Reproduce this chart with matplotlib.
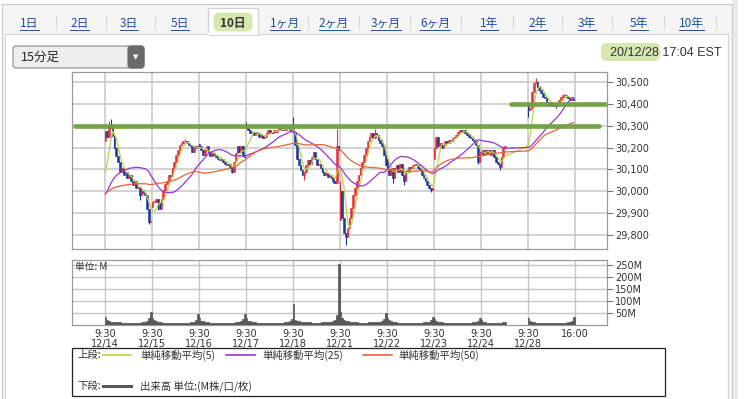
import numpy as np
import pandas as pd
import matplotlib
matplotlib.use('Agg')
import matplotlib.pyplot as plt
from matplotlib.patches import Rectangle, FancyBboxPatch

# ---------------- data (15 min bars) ----------------
days = ['12/14', '12/15', '12/16', '12/17', '12/18', '12/21', '12/22', '12/23', '12/24', '12/28']

# closes of the bars before 12/14 (only used to warm up the moving averages)
prev_close = [30020, 30005, 29985, 29990, 30010, 30030, 30045, 30025, 30005, 29990, 30010, 30020,
              30000, 29990, 29975, 29990, 30005, 30015, 30000, 29990, 29980, 29990, 29999,
              29960, 29910, 29880, 29860, 29850, 29880, 29910, 29935, 29955, 29945, 29965, 29985,
              29995, 29975, 29985, 30005, 30015, 29995, 30005, 30015, 30025, 30030, 30035, 30040,
              30050, 30046]

c1214 = [30275, 30250, 30300, 30290, 30255, 30200, 30160, 30135, 30090, 30105, 30075, 30090, 30060,
         30075, 30045, 30030, 30045, 30015, 30020, 29985, 30005, 29990, 29985, 29920, 29860, 29862]
c1215 = [29950, 29950, 29965, 29950, 29920, 29965, 30005, 30035, 30045, 30075, 30068, 30105, 30135,
         30166, 30190, 30212, 30220, 30228, 30228, 30220, 30212, 30205, 30182, 30205, 30197, 30205]
c1216 = [30205, 30190, 30166, 30190, 30205, 30182, 30160, 30174, 30166, 30158, 30150, 30143, 30150,
         30135, 30127, 30120, 30127, 30105, 30090, 30135, 30174, 30205, 30182, 30205, 30166, 30158]
c1217 = [30288, 30280, 30265, 30273, 30258, 30273, 30265, 30250, 30258, 30243, 30250, 30265, 30280,
         30273, 30265, 30280, 30273, 30280, 30288, 30280, 30288, 30280, 30288, 30290, 30280, 30288]
c1218 = [30273, 30212, 30150, 30120, 30098, 30075, 30090, 30120, 30143, 30127, 30158, 30182, 30150,
         30120, 30127, 30105, 30090, 30075, 30082, 30067, 30075, 30060, 30045, 30040, 30205, 30190]
c1221 = [30000, 29880, 29810, 29790, 29830, 29876, 29922, 29983, 30013, 30045, 30075, 30105, 30135,
         30166, 30197, 30228, 30250, 30265, 30243, 30265, 30258, 30235, 30220, 30205, 30166, 30120]
c1222 = [30100, 30075, 30105, 30060, 30105, 30120, 30090, 30127, 30075, 30045, 30090, 30098, 30113,
         30105, 30120, 30127, 30120, 30105, 30098, 30075, 30060, 30045, 30030, 30015, 30005, 30015]
c1223 = [30200, 30250, 30205, 30220, 30197, 30212, 30228, 30220, 30235, 30228, 30243, 30250, 30258,
         30273, 30280, 30273, 30280, 30265, 30258, 30250, 30243, 30235, 30228, 30212, 30135, 30182]
c1224 = [30190, 30166, 30190, 30174, 30190, 30166, 30190, 30158, 30135, 30127, 30113, 30158, 30197,
         30205]
c1228 = [30370, 30380, 30455, 30494, 30502, 30479, 30464, 30449, 30433, 30426, 30410, 30403, 30395,
         30388, 30395, 30388, 30403, 30418, 30433, 30441, 30441, 30433, 30426, 30418, 30426, 30418]
close_by_day = [c1214, c1215, c1216, c1217, c1218, c1221, c1222, c1223, c1224, c1228]

# opening price of the first bar of each day (gaps)
day_open = [30230, 29930, 30215, 30300, 30290, 29870, 30150, 30150, 30175, 30395]

# wicks that stick out of the bodies (time slot = day*26 + bar -> price)
wick_high = {2: 30320, 3: 30330, 44: 30240, 78: 30318, 104: 30341, 128: 30285, 130: 30045,
             149: 30285, 238: 30517}
wick_low = {19: 29960, 24: 29850, 29: 29915, 70: 30082, 110: 30052, 126: 30037, 133: 29755,
            159: 30040, 165: 30030, 180: 29997, 206: 30125, 218: 30097, 234: 30340, 249: 30380}

# volume, millions
v1214 = [33, 20, 16, 14, 14, 13, 12, 12, 11, 10, 10, 9, 9, 9, 9, 9, 9, 10, 10, 10, 11, 12, 13, 15, 30, 54]
v1215 = [30, 20, 16, 14, 12, 11, 10, 10, 9, 9, 8, 8, 8, 8, 8, 8, 9, 9, 9, 10, 10, 11, 12, 14, 22, 46]
v1216 = [28, 18, 15, 13, 12, 11, 10, 10, 9, 9, 9, 9, 9, 9, 9, 9, 9, 10, 10, 10, 11, 12, 13, 15, 24, 47]
v1217 = [28, 18, 15, 13, 12, 11, 10, 9, 9, 9, 8, 8, 8, 8, 8, 8, 9, 9, 9, 10, 10, 11, 12, 14, 18, 25]
v1218 = [87, 22, 17, 15, 14, 13, 12, 12, 11, 11, 10, 10, 10, 10, 10, 10, 11, 11, 12, 12, 13, 14, 16, 20, 40, 254]
v1221 = [54, 30, 22, 18, 16, 14, 13, 12, 11, 11, 10, 10, 10, 10, 10, 10, 11, 11, 11, 12, 12, 13, 14, 16, 24, 50]
v1222 = [30, 20, 16, 14, 12, 11, 10, 10, 9, 9, 9, 9, 9, 9, 9, 9, 9, 10, 10, 10, 11, 12, 13, 14, 20, 35]
v1223 = [25, 18, 14, 12, 11, 10, 10, 9, 9, 9, 8, 8, 8, 8, 8, 8, 9, 9, 9, 10, 10, 11, 12, 13, 18, 30]
v1224 = [20, 14, 11, 10, 9, 8, 8, 8, 8, 8, 9, 10, 11, 14]
v1228 = [30, 16, 13, 11, 10, 9, 9, 8, 8, 8, 8, 8, 8, 8, 8, 8, 8, 8, 9, 9, 10, 10, 11, 13, 18, 35]
vol_by_day = [v1214, v1215, v1216, v1217, v1218, v1221, v1222, v1223, v1224, v1228]

ma_periods = [5, 25, 50]
ma_colors = ['#b9d548', '#9a35d6', '#e8623a']
ma_labels = ['単純移動平均(5)', '単純移動平均(25)', '単純移動平均(50)']

price_ticks = [29800, 29900, 30000, 30100, 30200, 30300, 30400, 30500]
vol_ticks = [50, 100, 150, 200, 250]
highlight_levels = [30300, 30400]
highlight_spans = [(-16.5, 273.5), (224.5, 276.5)]

tab_labels = ['1日', '2日', '3日', '5日', '10日', '1ヶ月', '2ヶ月', '3ヶ月', '6ヶ月',
              '1年', '2年', '3年', '5年', '10年']
selected_tab = '10日'

# ---------------- build bar table ----------------
BPD = 26  # 15 min bars in a 9:30-16:00 session
slots, opens, closes, vols = [], [], [], []
for d, (cl, vo) in enumerate(zip(close_by_day, vol_by_day)):
    for k, c in enumerate(cl):
        slots.append(d * BPD + k)
        opens.append(day_open[d] if k == 0 else cl[k - 1])
        closes.append(c)
        vols.append(vo[k])
xs = np.array(slots) + 0.25
opens = np.array(opens, float)
closes = np.array(closes, float)
highs = np.maximum(opens, closes)
lows = np.minimum(opens, closes)
row_of = {s: i for i, s in enumerate(slots)}
for s, v in wick_high.items():
    highs[row_of[s]] = max(highs[row_of[s]], v)
for s, v in wick_low.items():
    lows[row_of[s]] = min(lows[row_of[s]], v)
up = closes >= opens
cols = np.where(up, '#e8303c', '#1c3a94')

allc = pd.Series(prev_close + list(closes))
mas = [allc.rolling(n).mean().iloc[len(prev_close):].values for n in ma_periods]

tick_pos = [d * BPD for d in range(len(days))] + [len(days) * BPD]
tick_lab = ['9:30\n' + d for d in days] + ['16:00']

JP = ['Noto Sans CJK JP', 'DejaVu Sans']
GRID = '#c6c6c6'

# ---------------- figure ----------------
fig = plt.figure(figsize=(7.49, 3.99), dpi=100)
bg = fig.add_axes([0, 0, 1, 1])
bg.set_xlim(0, 749)
bg.set_ylim(399, 0)
bg.axis('off')

# page frame + tab bar
bg.add_patch(Rectangle((2, 4), 730, 400, fc='#f5f5f5', ec='#c9c9c9', lw=0.8))
bg.add_patch(Rectangle((5, 34), 723, 370, fc='white', ec='#d6d6d6', lw=0.8))
bg.add_patch(Rectangle((733, 0), 5, 399, fc='#e9e9f0', ec='none'))
bg.add_patch(Rectangle((208, 8), 50, 26.5, fc='white', ec='#d0d0d0', lw=0.8))
bg.plot([208.7, 257.3], [34, 34], color='white', lw=1.6)
bg.add_patch(FancyBboxPatch((215, 14), 36, 16, boxstyle='round,pad=1.5,rounding_size=6',
                            fc='#d4e8b0', ec='none'))

tab_x = [29.5, 79.5, 129, 180, 233, 285, 334, 385.5, 435, 489, 538, 587, 639, 691]
sep_x = [56, 106, 155, 308, 359, 410, 461, 513, 562, 612, 664, 716]
links = []
for lab, cx in zip(tab_labels, tab_x):
    if lab == selected_tab:
        bg.text(cx, 23, lab, ha='center', va='center', fontsize=8.5, color='#333333',
                fontweight='bold', family=JP)
    else:
        links.append(bg.text(cx, 23, lab, ha='center', va='center', fontsize=8.5,
                             color='#1f4f9f', family=JP))
for sx in sep_x:
    bg.plot([sx, sx], [16, 29], color='#d6d6d6', lw=0.8)

# dropdown
bg.add_patch(FancyBboxPatch((13, 46), 131, 22, boxstyle='round,pad=0,rounding_size=3',
                            fc='#eeeeee', ec='#8c8c8c', lw=0.8))
bg.add_patch(FancyBboxPatch((128, 46), 16, 22, boxstyle='round,pad=0,rounding_size=3',
                            fc='#6a6a6a', ec='#6a6a6a', lw=0.8))
bg.text(136, 57, '▼', ha='center', va='center', fontsize=5, color='white')
bg.text(21, 57.5, '15分足', ha='left', va='center', fontsize=9, color='#222222', family=JP)

# timestamp
bg.add_patch(FancyBboxPatch((603, 45), 55, 14, boxstyle='round,pad=2,rounding_size=6',
                            fc='#d4e8b0', ec='none'))
bg.text(722, 52.5, '20/12/28 17:04 EST', ha='right', va='center', fontsize=9,
        color='#333333', family='Liberation Sans')

# ---------------- price panel ----------------
ax = fig.add_axes([72 / 749, 1 - 249 / 399, 535 / 749, 177.5 / 399])
ax.set_xlim(-18.25, 277.7)
ax.set_ylim(29736, 30548)
ax.vlines(xs, lows, highs, color=cols, lw=0.8, zorder=3)
ax.bar(xs, np.maximum(np.abs(closes - opens), 4), bottom=np.minimum(opens, closes),
       width=0.9, color=cols, edgecolor=cols, linewidth=0.4, zorder=3)
for m, c in zip(mas, ma_colors):
    ax.plot(xs, m, color=c, lw=0.9, zorder=4)
for lvl, (x0, x1) in zip(highlight_levels, highlight_spans):
    ax.plot([x0, x1], [lvl, lvl], color='#6f9e3e', lw=3.4, alpha=0.92,
            solid_capstyle='round', zorder=5)

ax.set_yticks(price_ticks)
ax.set_yticklabels([f'{p:,}' for p in price_ticks])
ax.set_xticks(tick_pos)
ax.set_xticklabels([])
ax.yaxis.tick_right()
ax.tick_params(axis='y', length=4, width=0.8, color='#777777', pad=2, labelsize=7,
               labelcolor='#333333')
ax.tick_params(axis='x', length=0)
ax.grid(True, color=GRID, lw=1.1)
ax.set_axisbelow(True)
for s in ax.spines.values():
    s.set_color('#9a9a9a')
    s.set_linewidth(0.9)

# ---------------- volume panel ----------------
axv = fig.add_axes([72 / 749, 1 - 325 / 399, 535 / 749, 65 / 399])
axv.set_xlim(-18.25, 277.7)
axv.set_ylim(0, 271)
axv.bar(xs, vols, width=1.0, color='#575757', edgecolor='#575757', linewidth=0.5, zorder=3)
axv.set_yticks(vol_ticks)
axv.set_yticklabels([f'{v}M' for v in vol_ticks])
axv.set_xticks(tick_pos)
axv.set_xticklabels(tick_lab, linespacing=0.95)
axv.yaxis.tick_right()
axv.tick_params(axis='y', length=4, width=0.8, color='#777777', pad=2, labelsize=7,
                labelcolor='#333333')
axv.tick_params(axis='x', length=0, pad=3, labelsize=7, labelcolor='#333333')
axv.grid(True, color=GRID, lw=1.0)
axv.set_axisbelow(True)
for s in axv.spines.values():
    s.set_color('#9a9a9a')
    s.set_linewidth(0.9)
axv.text(0.006, 0.89, '単位: M', transform=axv.transAxes, ha='left', va='center',
         fontsize=7, color='#333333', family=JP, zorder=6)

# ---------------- legend box ----------------
bg.add_patch(Rectangle((72, 348), 593, 48, fc='none', ec='#222222', lw=0.9))
bg.text(77, 355, '上段:', ha='left', va='center', fontsize=7.5, color='#333333', family=JP)
leg_x = [(103, 131, 140), (226, 255, 262), (363, 392, 398)]
for (l0, l1, tx), c, lab in zip(leg_x, ma_colors, ma_labels):
    bg.plot([l0, l1], [355, 355], color=c, lw=1.2)
    bg.text(tx, 355, lab, ha='left', va='center', fontsize=7.5, color='#333333', family=JP)
bg.text(77, 386, '下段:', ha='left', va='center', fontsize=7.5, color='#333333', family=JP)
bg.plot([103, 131], [386, 386], color='#575757', lw=2.2)
bg.text(140, 386, '出来高 単位:(M株/口/枚)', ha='left', va='center', fontsize=7.5,
        color='#333333', family=JP)

# underline the tab links
fig.canvas.draw()
inv = bg.transData.inverted()
for t in links:
    bb = t.get_window_extent()
    (x0, _), (x1, _) = inv.transform([[bb.x0, 0], [bb.x1, 0]])
    bg.plot([x0, x1], [29.5, 29.5], color='#1f4f9f', lw=0.7)

fig.savefig('out.png', dpi=100)
